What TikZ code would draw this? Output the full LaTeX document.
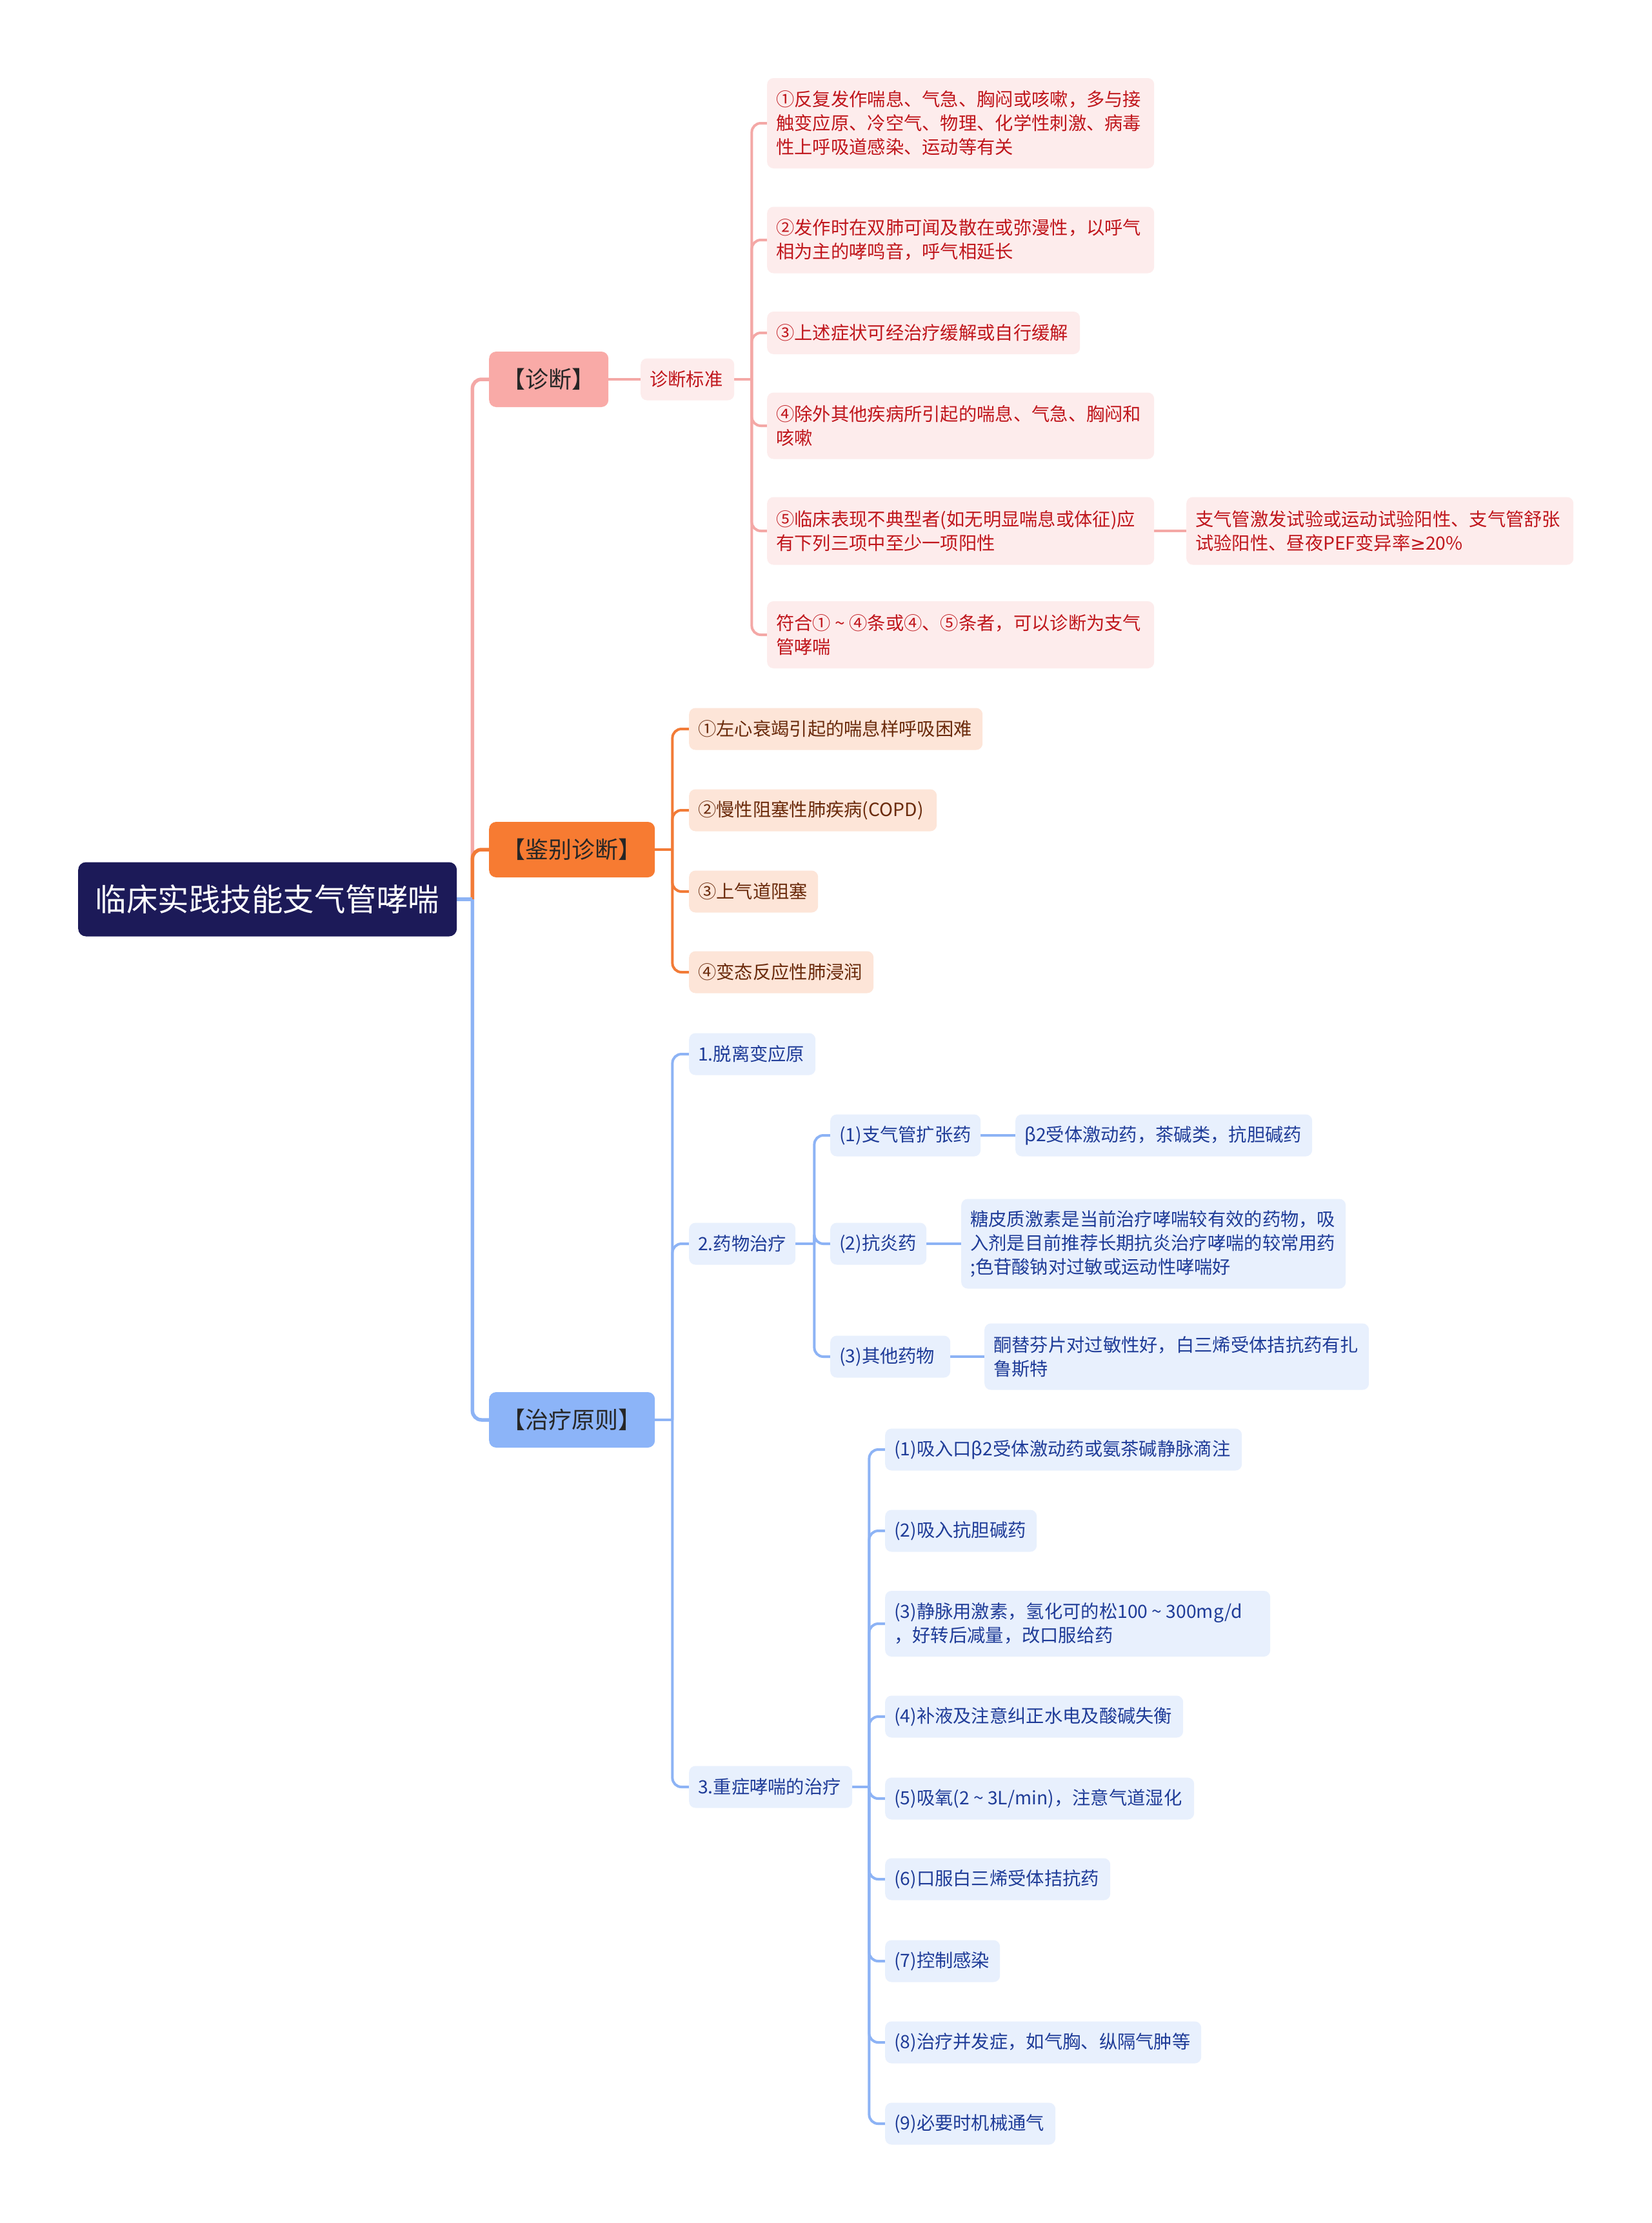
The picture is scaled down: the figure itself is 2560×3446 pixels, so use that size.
\documentclass[tikz,border=0pt]{standalone}
\usepackage{fontspec}
\setmainfont{Noto Sans CJK SC}
\newfontfamily\symf{DejaVu Sans}
\newcommand{\tld}{\makebox[1em]{\textasciitilde}}
\definecolor{rootfill}{HTML}{1C1A58}
\definecolor{pinkline}{HTML}{F4A8A6}
\definecolor{dlvfill}{HTML}{F9AAA7}
\definecolor{dfill}{HTML}{FDECEC}
\definecolor{dtext}{HTML}{C0161C}
\definecolor{oline}{HTML}{F27B37}
\definecolor{jlvfill}{HTML}{F77B32}
\definecolor{jfill}{HTML}{FDE5D8}
\definecolor{jtext}{HTML}{6A2A0B}
\definecolor{bline}{HTML}{8DB3F5}
\definecolor{tlvfill}{HTML}{8CB4F8}
\definecolor{tfill}{HTML}{E8F0FD}
\definecolor{ttext}{HTML}{1F3C98}
\definecolor{lvtext}{HTML}{262626}
\pgfdeclarelayer{bg}
\pgfsetlayers{bg,main}
\begin{document}
\begin{tikzpicture}[x=1pt,y=-1pt,
  base/.style={rounded corners=10pt, anchor=west, align=left, inner xsep=14pt, inner ysep=0pt,
    minimum height=65pt, font=\fontsize{28.3pt}{37pt}\selectfont},
  dbox/.style={base, fill=dfill, text=dtext},
  jbox/.style={base, fill=jfill, text=jtext},
  tbox/.style={base, fill=tfill, text=ttext},
  lvone/.style={rounded corners=11pt, anchor=west, align=center, inner sep=0pt,
    minimum height=86pt, text=lvtext, font=\fontsize{36pt}{44pt}\selectfont},
  rootbox/.style={rounded corners=12pt, anchor=west, align=center, inner sep=0pt,
    minimum width=587pt, minimum height=115pt, fill=rootfill, text=white,
    font=\fontsize{48.5pt}{56pt}\selectfont},
  pl/.style={draw=pinkline, line width=4pt, rounded corners=14pt},
  ol/.style={draw=oline, line width=4pt, rounded corners=14pt},
  bl/.style={draw=bline, line width=4pt, rounded corners=14pt},
  thick1/.style={line width=5.5pt}
]
\useasboundingbox (0,0) rectangle (2560,3446);
\begin{pgfonlayer}{bg}
\fill[white] (0,0) rectangle (2560,3446);
\end{pgfonlayer}

% root
\node[rootbox] (root) at (121,1394) {临床实践技能支气管哮喘};

% level one
\node[lvone, fill=dlvfill, minimum width=185pt] (zd) at (758,588) {【诊断】};
\node[lvone, fill=jlvfill, minimum width=257pt] (jb) at (758,1317) {【鉴别诊断】};
\node[lvone, fill=tlvfill, minimum width=257pt] (zl) at (758,2201) {【治疗原则】};

% diagnosis
\node[dbox, text width=117pt] (bz) at (993,588) {诊断标准};
\node[dbox, text width=572pt, minimum height=140pt] (d1) at (1189,191) {①反复发作喘息、气急、胸闷或咳嗽，多与接\\触变应原、冷空气、物理、化学性刺激、病毒\\性上呼吸道感染、运动等有关};
\node[dbox, text width=572pt, minimum height=103pt] (d2) at (1189,372) {②发作时在双肺可闻及散在或弥漫性，以呼气\\相为主的哮鸣音，呼气相延长};
\node[dbox, text width=457pt, minimum height=66pt] (d3) at (1189,516) {③上述症状可经治疗缓解或自行缓解};
\node[dbox, text width=572pt, minimum height=103pt] (d4) at (1189,660) {④除外其他疾病所引起的喘息、气急、胸闷和\\咳嗽};
\node[dbox, text width=572pt, minimum height=105pt] (d5) at (1189,823) {⑤临床表现不典型者(如无明显喘息或体征)应\\有下列三项中至少一项阳性};
\node[dbox, text width=572pt, minimum height=105pt] (d5c) at (1839,823) {支气管激发试验或运动试验阳性、支气管舒张\\试验阳性、昼夜PEF变异率{\symf ≥}20\%};
\node[dbox, text width=572pt, minimum height=104pt] (d6) at (1189,984) {符合①\tld ④条或④、⑤条者，可以诊断为支气\\管哮喘};

% differential
\node[jbox, text width=427pt] (j1) at (1068,1130) {①左心衰竭引起的喘息样呼吸困难};
\node[jbox, text width=356pt] (j2) at (1068,1256) {②慢性阻塞性肺疾病(COPD)};
\node[jbox, text width=172pt] (j3) at (1068,1382) {③上气道阻塞};
\node[jbox, text width=258pt] (j4) at (1068,1507) {④变态反应性肺浸润};

% treatment
\node[tbox, text width=168pt] (t1) at (1068,1634) {1.脱离变应原};
\node[tbox, text width=137pt] (t2) at (1068,1928) {2.药物治疗};
\node[tbox, text width=225pt] (t3) at (1068,2770) {3.重症哮喘的治疗};
\node[tbox, text width=205pt] (t21) at (1287,1760) {(1)支气管扩张药};
\node[tbox, text width=432pt] (t21c) at (1574,1760) {β2受体激动药，茶碱类，抗胆碱药};
\node[tbox, text width=121pt] (t22) at (1287,1928) {(2)抗炎药};
\node[tbox, text width=568pt, minimum height=139pt] (t22c) at (1490,1928) {糖皮质激素是当前治疗哮喘较有效的药物，吸\\入剂是目前推荐长期抗炎治疗哮喘的较常用药\\;色苷酸钠对过敏或运动性哮喘好};
\node[tbox, text width=158pt] (t23) at (1287,2103) {(3)其他药物};
\node[tbox, text width=568pt, minimum height=103pt] (t23c) at (1526,2103) {酮替芬片对过敏性好，白三烯受体拮抗药有扎\\鲁斯特};
\node[tbox, text width=525pt] (s1) at (1372,2247) {(1)吸入口β2受体激动药或氨茶碱静脉滴注};
\node[tbox, text width=207pt] (s2) at (1372,2373) {(2)吸入抗胆碱药};
\node[tbox, text width=569pt, minimum height=102pt] (s3) at (1372,2517) {(3)静脉用激素，氢化可的松100\tld 300mg/d\\，好转后减量，改口服给药};
\node[tbox, text width=434pt] (s4) at (1372,2661) {(4)补液及注意纠正水电及酸碱失衡};
\node[tbox, text width=451pt] (s5) at (1372,2788) {(5)吸氧(2\tld 3L/min)，注意气道湿化};
\node[tbox, text width=321pt] (s6) at (1372,2913) {(6)口服白三烯受体拮抗药};
\node[tbox, text width=150pt] (s7) at (1372,3040) {(7)控制感染};
\node[tbox, text width=462pt] (s8) at (1372,3166) {(8)治疗并发症，如气胸、纵隔气肿等};
\node[tbox, text width=236pt] (s9) at (1372,3292) {(9)必要时机械通气};

% junction coordinates
\path (root.east) ++(24,0) coordinate (rj);
\path (bz.east) ++(27,0) coordinate (bzj);
\path (jb.east) ++(27,0) coordinate (jbj);
\path (zl.east) ++(27,0) coordinate (zlj);
\path (t2.east) ++(29,0) coordinate (t2j);
\path (t3.east) ++(26,0) coordinate (t3j);

\begin{pgfonlayer}{bg}
% root branches
\draw[pl, thick1] (rj) |- (zd.west);
\draw[ol, thick1] (rj) |- (jb.west);
\draw[bl, thick1] (rj) |- (zl.west);
\draw[bl, thick1] (root.east) -- (rj);
% diagnosis
\draw[pl] (zd.east) -- (bz.west);
\draw[pl] (bz.east) -- (bzj);
\foreach \n in {d1,d2,d3,d4,d5,d6} \draw[pl] (bzj) |- (\n.west);
\draw[pl] (d5.east) -- (d5c.west);
% differential
\draw[ol] (jb.east) -- (jbj);
\foreach \n in {j1,j2,j3,j4} \draw[ol] (jbj) |- (\n.west);
% treatment
\draw[bl] (zl.east) -- (zlj);
\foreach \n in {t1,t2,t3} \draw[bl] (zlj) |- (\n.west);
\draw[bl] (t2.east) -- (t2j);
\foreach \n in {t21,t22,t23} \draw[bl] (t2j) |- (\n.west);
\draw[bl] (t21.east) -- (t21c.west);
\draw[bl] (t22.east) -- (t22c.west);
\draw[bl] (t23.east) -- (t23c.west);
\draw[bl] (t3.east) -- (t3j);
\foreach \n in {s1,s2,s3,s4,s5,s6,s7,s8,s9} \draw[bl] (t3j) |- (\n.west);
\end{pgfonlayer}
\end{tikzpicture}
\end{document}
